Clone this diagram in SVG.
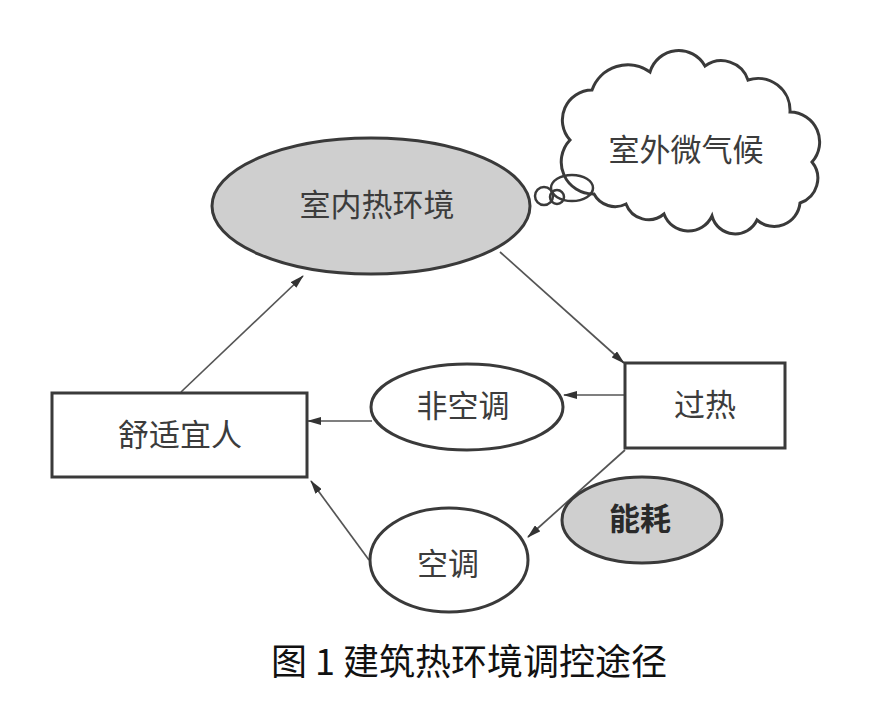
<svg xmlns="http://www.w3.org/2000/svg" width="895" height="705" viewBox="0 0 895 705">
<defs>
<style>
.shape{stroke:#3a3a3a;stroke-width:3;}
.white{fill:#ffffff;}
.gray{fill:#cfcfcf;}
.lbl{font-family:"Noto Sans CJK SC","Liberation Sans",sans-serif;font-size:31px;fill:#3c3c3c;text-anchor:middle;}
.bold{font-weight:bold;fill:#2a2a2a;}
.conn{stroke:#555555;stroke-width:1.7;fill:none;marker-end:url(#arr);}
.cap{font-family:"Noto Sans CJK SC","Liberation Sans",sans-serif;font-size:36px;fill:#111111;text-anchor:middle;}
</style>
<marker id="arr" markerUnits="userSpaceOnUse" markerWidth="14" markerHeight="8" refX="13" refY="4" orient="auto">
<path d="M0,0 L14,4 L0,8 z" fill="#333333"/>
</marker>
</defs>
<rect width="895" height="705" fill="#ffffff"/>

<g id="connectors">
<line class="conn" x1="181" y1="392" x2="303" y2="276"/>
<line class="conn" x1="500" y1="252" x2="624" y2="363"/>
<line class="conn" x1="625" y1="395" x2="564" y2="395"/>
<line class="conn" x1="372" y1="421" x2="308" y2="421"/>
<line class="conn" x1="625" y1="450" x2="528" y2="537"/>
<line class="conn" x1="369" y1="560" x2="311" y2="481"/>
</g>

<g id="node-outdoor">
<path class="shape white" d="M570,140 A30,30 0 0 1 592,90 A38,38 0 0 1 650,72 A30,30 0 0 1 705,66 A28,28 0 0 1 748,80 A32,32 0 0 1 790,112 A30,30 0 0 1 812,162 A26,26 0 0 1 800,203 A26,26 0 0 1 757,220 A24,24 0 0 1 712,216 A26,26 0 0 1 664,214 A24,24 0 0 1 626,204 A24,24 0 0 1 594,194 A32,32 0 0 1 570,140 Z"/>
<ellipse cx="572" cy="188" rx="21" ry="13" fill="none" stroke="#3a3a3a" stroke-width="2.5"/>
<circle cx="544" cy="196" r="9" fill="none" stroke="#3a3a3a" stroke-width="2.5"/>
<circle cx="557" cy="197" r="7" fill="none" stroke="#3a3a3a" stroke-width="2.5"/>
<text class="lbl" x="686" y="161">室外微气候</text>
</g>

<g id="node-indoor">
<ellipse class="shape gray" cx="371" cy="206" rx="159" ry="68"/>
<text class="lbl" x="377" y="216">室内热环境</text>
</g>

<g id="node-comfort">
<rect class="shape white" x="52" y="393" width="255" height="84"/>
<text class="lbl" x="180" y="446">舒适宜人</text>
</g>

<g id="node-nonac">
<ellipse class="shape white" cx="467" cy="407" rx="96" ry="43"/>
<text class="lbl" x="463" y="417">非空调</text>
</g>

<g id="node-overheat">
<rect class="shape white" x="625" y="363" width="160" height="85"/>
<text class="lbl" x="705" y="416">过热</text>
</g>

<g id="node-energy">
<ellipse class="shape gray" cx="642" cy="520" rx="80" ry="43"/>
<text class="lbl bold" x="640" y="530">能耗</text>
</g>

<g id="node-ac">
<ellipse class="shape white" cx="449" cy="560" rx="79" ry="52"/>
<text class="lbl" x="448" y="575">空调</text>
</g>

<text class="cap" x="469" y="675" xml:space="preserve">图 1 建筑热环境调控途径</text>
</svg>
